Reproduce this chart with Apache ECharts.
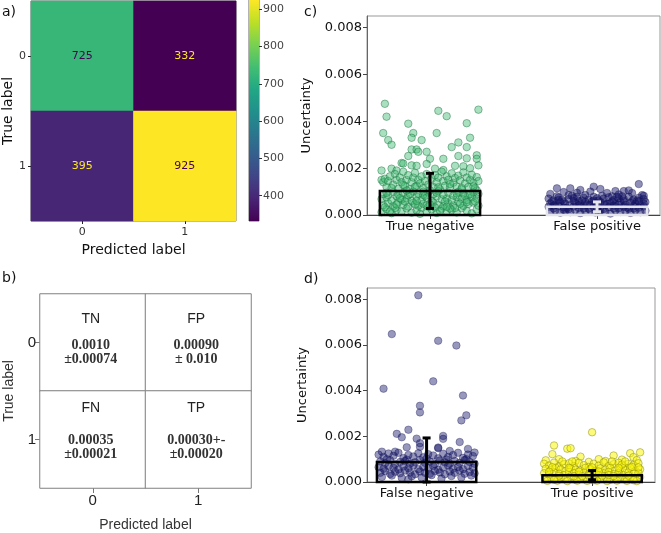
<!DOCTYPE html>
<html><head><meta charset="utf-8">
<script src="https://cdn.jsdelivr.net/npm/echarts@6/dist/echarts.min.js"></script>
<style>html,body{margin:0;padding:0;background:#fff}#c{width:661px;height:533px}</style>
</head><body><div id="c"></div>
<script>
// ---------- data ----------
const cmLabels = ['0', '1'];
const cmCounts = [[725, 332], [395, 925]];          // rows: true label, cols: predicted
const colorbarTicks = [400, 500, 600, 700, 800, 900];
const cellNames = [['TN', 'FP'], ['FN', 'TP']];
const cellMeans = [['0.0010', '0.00090'], ['0.00035', '0.00030+-']];
const cellStds = [['±0.00074', '± 0.010'], ['±0.00021', '±0.00020']];
const catsC = ['True negative', 'False positive'];
const catsD = ['False negative', 'True positive'];
const barMeansC = [0.00103, 0.00035];
const barStdsC = [0.00075, 0.00021];
const barMeansD = [0.00088, 0.00030];
const barStdsD = [0.00105, 0.00020];
const uncTicks = [0, 0.002, 0.004, 0.006, 0.008];
// points: [jitter offset x100, uncertainty x1e5]
const ptsTN = [
 [-27,475],[-26,420],[-28,350],[-25,320],[-23,300],[-13,390],[-10,350],[-11,330],[-5,320],[5,445],[10,422],[4,350],[22,392],[24,330],[29,450],[17,310],[22,290],[13,290],[-11,280],[-8,280],[-7,270],[-2,270],[-13,252],[17,252],[28,255],[28,240],[22,242],[8,240],[0,240],[-17,222],[-16,220],[-11,212],[-8,210],[-2,218],[15,210],[20,208],[24,200],[29,212],[-29,190],[-23,198],[-20,190],[8,192],[3,198],
 [-29,150],[-28,140],[-27,155],[-26,120],[-25,145],[-24,165],[-22,130],[-21,175],[-20,150],[-19,112],[-18,160],[-17,140],[-16,185],[-15,125],[-14,150],[-13,170],[-12,110],[-11,140],[-10,160],[-9,180],[-8,125],[-7,150],[-6,135],[-5,165],[-4,115],[-3,145],[-2,175],[-1,130],[1,155],[2,120],[3,170],[4,140],[5,160],[6,110],[7,185],[8,145],[9,125],[10,165],[11,150],[12,118],[13,178],[14,138],[15,158],[16,122],[17,168],[18,148],[19,110],[20,182],[21,135],[22,160],[23,120],[24,150],[25,172],[26,138],[27,115],[28,162],[29,145],
 [-29,12],[-26,25],[-23,8],[-20,22],[-17,15],[-14,28],[-11,10],[-8,20],[-5,30],[-2,14],[1,24],[4,9],[7,27],[10,16],[13,22],[16,11],[19,29],[22,18],[25,7],[28,24],
 [-28,42],[-25,50],[-22,38],[-19,55],[-16,44],[-13,36],[-10,52],[-7,40],[-4,48],[-1,35],[2,54],[5,43],[8,37],[11,50],[14,41],[17,56],[20,39],[23,47],[26,53],[29,40],
 [-29,68],[-26,75],[-23,62],[-20,80],[-17,66],[-14,72],[-11,60],[-8,78],[-5,65],[-2,74],[1,61],[4,79],[7,67],[10,71],[13,63],[16,77],[19,69],[22,64],[25,76],[28,70],
 [-28,90],[-25,85],[-22,98],[-19,88],[-16,94],[-13,84],[-10,100],[-7,91],[-4,86],[-1,96],[2,89],[5,102],[8,87],[11,95],[14,83],[17,99],[20,92],[23,86],[26,97],[29,90],
 [-27,33],[-21,30],[-15,58],[-9,45],[-3,82],[3,32],[9,58],[15,30],[21,80],[27,58],[-24,15],[-12,90],[0,45],[12,28],[24,88],[-6,5],[6,18],[18,48],[-18,72],[0,105],
 [-26,95],[-20,45],[-14,105],[-8,60],[-2,40],[4,95],[10,35],[16,92],[22,55],[28,105],[-23,115],[-9,120],[5,118],[19,115],[-16,128],[12,132],[-4,100],[26,122]
];
const ptsFP = [
 [-24,114],[-16,114],[-10,107],[-2,121],[2,111],[11,102],[16,102],[25,132],[-28,90],[-17,85],[-7,85],[6,94],[21,94],[-20,98],[13,88],[28,82],[-12,95],[9,80],[-4,100],[19,105],
 [-29,70],[-26,62],[-23,75],[-20,58],[-17,68],[-14,72],[-11,60],[-8,74],[-5,66],[-2,78],[1,62],[4,70],[7,76],[10,64],[13,72],[16,60],[19,78],[22,66],[25,74],[28,68],
 [-28,50],[-25,45],[-22,54],[-19,48],[-16,42],[-13,52],[-10,46],[-7,56],[-4,44],[-1,50],[2,55],[5,43],[8,51],[11,47],[14,56],[17,44],[20,52],[23,48],[26,42],[29,55],
 [-29,35],[-26,28],[-23,38],[-20,32],[-17,25],[-14,36],[-11,30],[-8,40],[-5,27],[-2,34],[1,38],[4,26],[7,33],[10,39],[13,29],[16,35],[19,27],[22,37],[25,31],[28,36],
 [-28,15],[-25,20],[-22,10],[-19,18],[-16,12],[-13,22],[-10,8],[-7,16],[-4,21],[-1,11],[2,19],[5,14],[8,6],[11,20],[14,13],[17,17],[20,9],[23,21],[26,12],[29,18],
 [-27,58],[-21,65],[-15,82],[-9,62],[-3,58],[3,82],[9,58],[15,80],[21,60],[27,85],[-24,80],[-12,78],[0,72],[12,78],[24,62],[-6,45],[6,48],[18,32],[-18,30],[0,25],
 [-26,40],[-20,22],[-14,60],[-8,28],[-2,62],[4,50],[10,28],[16,68],[22,28],[28,48],[-23,64],[-11,42],[1,14],[13,44],[25,58]
];
const ptsFN = [
 [-5,818],[-21,648],[7,619],[18,598],[4,441],[-26,409],[22,379],[-4,334],[-4,305],[24,292],[21,270],[-11,229],[-18,211],[-15,196],[10,202],[10,189],[20,175],[-6,190],[25,145],[-27,133],[29,129],[7,151],[-12,152],[-19,133],[-4,154],[14,136],[-11,12],[-4,170],[7,148],
 [-29,120],[-26,110],[-23,125],[-20,115],[-17,128],[-14,105],[-11,118],[-8,112],[-5,126],[-2,108],[1,122],[4,116],[7,104],[10,124],[13,110],[16,118],[19,128],[22,106],[25,120],[28,114],
 [-28,90],[-25,82],[-22,95],[-19,78],[-16,88],[-13,92],[-10,80],[-7,86],[-4,96],[-1,84],[2,90],[5,78],[8,94],[11,86],[14,80],[17,92],[20,84],[23,96],[26,88],[29,80],
 [-29,65],[-26,58],[-23,70],[-20,62],[-17,55],[-14,68],[-11,60],[-8,72],[-5,56],[-2,66],[1,60],[4,70],[7,54],[10,64],[13,72],[16,58],[19,66],[22,56],[25,70],[28,62],
 [-28,40],[-25,48],[-22,35],[-19,45],[-16,38],[-13,50],[-10,42],[-7,34],[-4,46],[-1,40],[2,36],[5,48],[8,42],[11,34],[14,46],[17,40],[20,50],[23,36],[26,44],[29,38],
 [-27,22],[-21,28],[-15,18],[-9,25],[-3,20],[3,30],[9,15],[15,26],[21,20],[27,28],[-24,100],[-12,98],[0,102],[12,99],[24,100]
];
const ptsTP = [
 [0,218],[-23,160],[-15,146],[-13,148],[-24,122],[-7,111],[13,116],[23,126],[29,130],[25,109],[-28,95],[-20,100],[-2,88],[8,92],[18,98],[27,96],[-10,92],[4,100],
 [-29,80],[-26,72],[-23,85],[-20,68],[-17,78],[-14,82],[-11,70],[-8,84],[-5,74],[-2,66],[1,80],[4,72],[7,86],[10,70],[13,78],[16,84],[19,68],[22,80],[25,74],[28,82],
 [-28,58],[-25,52],[-22,62],[-19,55],[-16,48],[-13,60],[-10,54],[-7,50],[-4,62],[-1,56],[2,48],[5,60],[8,54],[11,62],[14,50],[17,58],[20,52],[23,62],[26,48],[29,56],
 [-29,38],[-26,32],[-23,42],[-20,36],[-17,30],[-14,44],[-11,38],[-8,32],[-5,40],[-2,34],[1,42],[4,30],[7,38],[10,44],[13,34],[16,40],[19,30],[22,42],[25,36],[28,40],
 [-28,18],[-25,22],[-22,12],[-19,20],[-16,15],[-13,24],[-10,10],[-7,18],[-4,22],[-1,12],[2,20],[5,14],[8,24],[11,10],[14,18],[17,22],[20,12],[23,20],[26,16],[29,22],
 [-27,5],[-21,6],[-15,4],[-9,6],[-3,5],[3,6],[9,4],[15,6],[21,5],[27,4],[-24,65],[-12,90],[0,64],[12,90],[24,66],[-6,26],[6,28],[18,76],[-18,90],[20,90],
 [-26,45],[-20,28],[-14,62],[-8,45],[-2,28],[4,46],[10,30],[16,62],[22,28],[28,64],[-23,10],[-11,25],[1,8],[13,26],[25,8]
];
const viridis = ['#440154','#482475','#414487','#355f8d','#2a788e','#21918c','#22a884','#44bf70','#7ad151','#bddf26','#fde725'];

// ---------- build ----------
const chart = echarts.init(document.getElementById('c'), null, {renderer: 'canvas'});
const sans = 'DejaVu Sans';
const arial = 'Liberation Sans';
const cmMin = 332, cmMax = 925, cmMid = (cmMin + cmMax) / 2;

const heatA = [];
cmCounts.forEach((row, r) => row.forEach((v, c) => heatA.push({
  value: [c, r, v], label: {color: v > cmMid ? viridis[0] : viridis[10]}
})));

const heatB = [];
cellNames.forEach((row, r) => row.forEach((n, c) => heatB.push({
  value: [c, r, 0],
  label: {
    formatter: '{n|' + n + '}\n{m|' + cellMeans[r][c] + '}\n{m|' + cellStds[r][c] + '}',
    rich: {
      n: {fontFamily: arial, fontSize: 14, color: '#222', lineHeight: r === 0 ? 38 : 50},
      m: {fontFamily: 'Liberation Serif', fontWeight: 'bold', fontSize: 14, color: '#333', lineHeight: 14}
    },
    offset: [-2, r === 0 ? -9 : -17]
  }
})));

const toPts = (arr, center) => arr.map(p => [center + p[0] / 100, p[1] * 1e-5]);

function barRender(colors) {
  return function (params, api) {
    const x = api.value(0), m = api.value(1), s = api.value(2);
    const col = colors[params.dataIndex];
    const p0 = api.coord([x - 0.3, 0]);
    const p1 = api.coord([x + 0.3, m]);
    const lo = api.coord([x, Math.max(0, m - s)]);
    const hi = api.coord([x, m + s]);
    const cap = 4;
    return {
      type: 'group',
      children: [
        {type: 'rect', shape: {x: p0[0], y: p1[1], width: p1[0] - p0[0], height: p0[1] - p1[1]},
         style: {fill: 'none', stroke: col, lineWidth: 2.5}},
        {type: 'line', shape: {x1: lo[0], y1: lo[1], x2: hi[0], y2: hi[1]}, style: {stroke: col, lineWidth: 3}},
        {type: 'line', shape: {x1: hi[0] - cap, y1: hi[1], x2: hi[0] + cap, y2: hi[1]}, style: {stroke: col, lineWidth: 3}},
        {type: 'line', shape: {x1: lo[0] - cap, y1: lo[1], x2: lo[0] + cap, y2: lo[1]}, style: {stroke: col, lineWidth: 3}}
      ]
    };
  };
}

function valX(grid, min, max, cats) {
  return {
    type: 'value', gridIndex: grid, min: min, max: max, position: 'bottom',
    axisLine: {show: true, onZero: false, lineStyle: {color: '#444', width: 1}},
    axisTick: {show: true, customValues: [0, 1], length: 4, lineStyle: {color: '#444'}},
    axisLabel: {show: true, customValues: [0, 1], formatter: v => cats[Math.round(v)],
      fontFamily: sans, fontSize: 13, color: '#111', margin: 5},
    splitLine: {show: false}
  };
}
function valY(grid, nameGap) {
  return {
    type: 'value', gridIndex: grid, min: 0, max: 0.0085, position: 'left',
    name: 'Uncertainty', nameLocation: 'middle', nameGap: nameGap,
    nameTextStyle: {fontFamily: sans, fontSize: 13, color: '#111'},
    axisLine: {show: true, onZero: false, lineStyle: {color: '#666', width: 1}},
    axisTick: {show: true, customValues: uncTicks, length: 4, lineStyle: {color: '#444'}},
    axisLabel: {show: true, customValues: uncTicks, formatter: v => v.toFixed(3),
      fontFamily: sans, fontSize: 13, color: '#111', margin: 5},
    splitLine: {show: false}
  };
}

const ptSize = 7.5;
const option = {
  animation: false,
  backgroundColor: '#fff',
  grid: [
    {left: 29, top: 1, width: 207, height: 220, show: true, borderColor: '#666', borderWidth: 1},
    {left: 249, top: 0, width: 10, height: 221, show: true, borderColor: '#666', borderWidth: 1},
    {left: 40, top: 294, width: 211, height: 201},
    {left: 367, top: 16, width: 293, height: 199, show: true, borderColor: '#999', borderWidth: 1},
    {left: 367, top: 288, width: 288, height: 194, show: true, borderColor: '#999', borderWidth: 1}
  ],
  visualMap: [{
    show: false, seriesIndex: 0, min: cmMin, max: cmMax, dimension: 2,
    inRange: {color: viridis}
  }],
  xAxis: [
    {type: 'category', gridIndex: 0, data: cmLabels, position: 'bottom',
     name: 'Predicted label', nameLocation: 'middle', nameGap: 22,
     nameTextStyle: {fontFamily: sans, fontSize: 14, color: '#111'},
     axisLine: {show: false}, axisTick: {show: true, alignWithLabel: true, length: 3, lineStyle: {color: '#222'}},
     axisLabel: {fontFamily: sans, fontSize: 11, color: '#333', margin: 6}, splitLine: {show: false}},
    {type: 'category', gridIndex: 0, data: cmLabels, position: 'top',
     axisLine: {show: false}, axisTick: {show: true, inside: true, alignWithLabel: true, length: 3, lineStyle: {color: '#222'}},
     axisLabel: {show: false}},
    {type: 'category', gridIndex: 1, data: [''], show: false},
    {type: 'category', gridIndex: 2, data: cmLabels, position: 'bottom',
     name: 'Predicted label', nameLocation: 'middle', nameGap: 30,
     nameTextStyle: {fontFamily: arial, fontSize: 14, color: '#333'},
     axisLine: {show: false}, axisTick: {show: true, alignWithLabel: true, length: 5, lineStyle: {color: '#777'}},
     axisLabel: {fontFamily: arial, fontSize: 15, color: '#222', margin: 5}},
    valX(3, -0.377, 1.377, catsC),
    valX(4, -0.36, 1.38, catsD)
  ],
  yAxis: [
    {type: 'category', gridIndex: 0, data: cmLabels, inverse: true,
     name: 'True label', nameLocation: 'middle', nameGap: 16,
     nameTextStyle: {fontFamily: sans, fontSize: 14, color: '#111'},
     axisLine: {show: false}, axisTick: {show: true, alignWithLabel: true, length: 3, lineStyle: {color: '#222'}},
     axisLabel: {fontFamily: sans, fontSize: 11, color: '#333', margin: 5}},
    {type: 'category', gridIndex: 0, data: cmLabels, inverse: true, position: 'right',
     axisLine: {show: false}, axisTick: {show: true, inside: true, alignWithLabel: true, length: 3, lineStyle: {color: '#222'}},
     axisLabel: {show: false}},
    {type: 'value', gridIndex: 1, min: cmMin, max: cmMax, position: 'right',
     axisLine: {show: false}, splitLine: {show: false},
     axisTick: {show: true, customValues: colorbarTicks, length: 3, lineStyle: {color: '#333'}},
     axisLabel: {customValues: colorbarTicks, fontFamily: sans, fontSize: 11, color: '#444', margin: 4}},
    {type: 'category', gridIndex: 2, data: cmLabels, inverse: true,
     name: 'True label', nameLocation: 'middle', nameGap: 24,
     nameTextStyle: {fontFamily: arial, fontSize: 14, color: '#333'},
     axisLine: {show: false}, axisTick: {show: true, alignWithLabel: true, length: 5, lineStyle: {color: '#777'}},
     axisLabel: {fontFamily: arial, fontSize: 15, color: '#222', margin: 4}},
    valY(3, 54),
    valY(4, 58)
  ],
  series: [
    {type: 'heatmap', xAxisIndex: 0, yAxisIndex: 0, data: heatA,
     label: {show: true, formatter: p => p.value[2], fontFamily: sans, fontSize: 11}},
    {type: 'bar', xAxisIndex: 2, yAxisIndex: 2, data: [cmMax], barWidth: '100%', silent: true,
     itemStyle: {color: new echarts.graphic.LinearGradient(0, 1, 0, 0,
       viridis.map((c, i) => ({offset: i / (viridis.length - 1), color: c})))}},
    {type: 'heatmap', xAxisIndex: 3, yAxisIndex: 3, data: heatB,
     itemStyle: {color: '#fff', borderColor: '#808080', borderWidth: 1},
     label: {show: true}},
    {type: 'scatter', xAxisIndex: 4, yAxisIndex: 4, data: toPts(ptsTN, 0), symbolSize: ptSize,
     itemStyle: {color: 'rgba(60,185,110,0.55)', borderColor: 'rgba(25,110,60,0.8)', borderWidth: 0.7}},
    {type: 'scatter', xAxisIndex: 4, yAxisIndex: 4, data: toPts(ptsFP, 1), symbolSize: ptSize,
     itemStyle: {color: 'rgba(20,20,105,0.6)', borderColor: 'rgba(15,15,80,0.6)', borderWidth: 0.7}},
    {type: 'custom', xAxisIndex: 4, yAxisIndex: 4, z: 5,
     data: barMeansC.map((m, i) => [i, m, barStdsC[i]]),
     renderItem: barRender(['#000', '#e4e4ec'])},
    {type: 'scatter', xAxisIndex: 5, yAxisIndex: 5, data: toPts(ptsFN, 0), symbolSize: ptSize,
     itemStyle: {color: 'rgba(20,20,105,0.55)', borderColor: 'rgba(15,15,80,0.6)', borderWidth: 0.7}},
    {type: 'scatter', xAxisIndex: 5, yAxisIndex: 5, data: toPts(ptsTP, 1), symbolSize: ptSize,
     itemStyle: {color: 'rgba(250,245,0,0.65)', borderColor: 'rgba(125,125,10,0.8)', borderWidth: 0.7}},
    {type: 'custom', xAxisIndex: 5, yAxisIndex: 5, z: 5,
     data: barMeansD.map((m, i) => [i, m, barStdsD[i]]),
     renderItem: barRender(['#000', '#000'])}
  ],
  graphic: [
    {type: 'text', left: 2, top: 5, style: {text: 'a)', font: '14px "DejaVu Sans"', fill: '#111'}},
    {type: 'text', left: 2, top: 271, style: {text: 'b)', font: '14px "DejaVu Sans"', fill: '#111'}},
    {type: 'text', left: 304, top: 5, style: {text: 'c)', font: '14px "DejaVu Sans"', fill: '#111'}},
    {type: 'text', left: 304, top: 272, style: {text: 'd)', font: '14px "DejaVu Sans"', fill: '#111'}}
  ]
};
chart.setOption(option);
</script>
</body></html>
